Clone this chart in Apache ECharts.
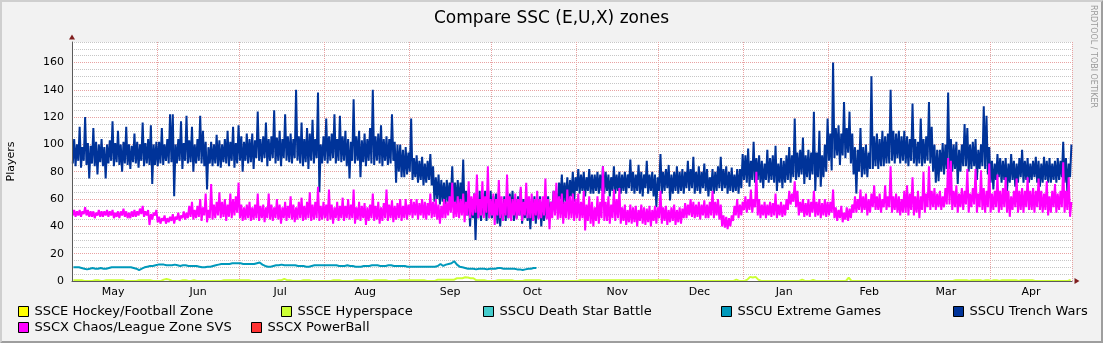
<!DOCTYPE html>
<html>
<head>
<meta charset="utf-8">
<script src="https://cdn.jsdelivr.net/npm/echarts@6/dist/echarts.min.js"></script>
<style>
  html, body { margin: 0; padding: 0; background: #F2F2F2; }
  #chart { width: 1103px; height: 343px; }
</style>
</head>
<body>
<div id="chart"></div>
<script>
// One year of player counts, starting 1 May 2010.
const startDate = Date.UTC(2010, 4, 1);
const endDate = Date.UTC(2011, 4, 1);
const DAY = 86400000;
const HOUR = 3600000;

const seriesNames = [
  'SSCE Hockey/Football Zone',
  'SSCE Hyperspace',
  'SSCU Death Star Battle',
  'SSCU Extreme Games',
  'SSCU Trench Wars',
  'SSCX Chaos/League Zone SVS',
  'SSCX PowerBall'
];
const seriesColors = ['#FFFF00', '#CCFF33', '#44CCCC', '#0099BB', '#003399', '#FF00FF', '#FF3333'];

const monthLabels = ['Jan', 'Feb', 'Mar', 'Apr', 'May', 'Jun', 'Jul', 'Aug', 'Sep', 'Oct', 'Nov', 'Dec'];

// No players recorded in these zones
const hockeyFootball = [];
const deathStarBattle = [];
const powerBall = [];

// Daily averages
const hyperspace = [
  // May
  .6,.6,.6,.6,0,0,0,0,.6,.6,0,0,.6,.6,.6,.6,.6,.6,.6,0,0,0,0,0,.6,.6,.6,.6,.6,0,0,
  // Jun
  0,0,1,1.5,1,0,0,0,0,.6,.6,0,0,.6,0,0,0,0,0,0,0,0,0,0,.6,.6,.6,.6,.6,.6,
  // Jul
  .6,.6,.6,.6,0,0,0,0,0,0,0,0,0,0,.6,.6,1.5,.6,.6,0,0,0,0,.6,.6,.6,0,0,0,0,0,
  // Aug
  0,0,0,.6,.6,.6,0,0,0,0,0,.6,.6,.6,.6,.6,0,0,.6,.6,.6,.6,.6,0,0,0,0,.6,.6,.6,.6,
  // Sep
  .6,.6,.6,.6,.6,.6,0,0,0,0,1,1,1,1,1,1,1,2,2,2,2.7,2.5,2,2,.6,.6,.6,.6,0,0,
  // Oct
  0,0,.6,.6,.6,.6,.6,.6,0,0,0,0,.6,.6,.6,.6,.6,.6,0,0,0,0,0,0,0,0,0,0,0,0,0,
  // Nov
  0,.6,.6,.6,.6,.6,.6,.6,.6,.6,.6,.6,.6,.6,.6,.6,.6,.6,.6,.6,.6,.6,.6,.6,.6,.6,.6,.6,.6,.6,
  // Dec
  .6,.6,.6,.6,0,0,0,0,0,0,0,0,0,0,0,0,0,0,0,0,0,0,0,0,0,0,0,0,1,0,0,
  // Jan
  0,1,3,2.5,3,1,0,0,0,0,0,0,0,0,0,0,0,0,0,0,0,1,0,0,0,.8,0,0,0,0,0,
  // Feb
  0,0,0,0,0,0,0,2.5,0,0,0,0,0,0,0,0,0,0,0,0,0,0,0,0,0,0,0,0,
  // Mar
  0,0,0,0,0,0,0,0,0,0,0,0,0,0,0,0,0,0,.6,.6,.6,.6,.6,0,.6,.6,.6,.6,0,.6,.6,
  // Apr
  0,.6,.6,0,.6,.6,.6,.6,.6,.6,0,.6,.6,.6,.6,.6,0,0,0,0,0,0,0,0,0,0,0,0,0,.8
];

// Daily averages; zone closed after mid October
const extremeGames = [
  // May
  10,10,10,9.5,9,8.5,9,9.5,9,9,9.5,9,9,9.5,10,10,10,10,10,10,10,10,9.5,9,8,9,10,10.5,11,11,11.5,
  // Jun
  12,12,12,11.5,11.5,11.5,12,11.5,11,11.5,11.5,11,11,11,11,10.5,10,10,10.5,10.5,11,11.5,12,12.5,12.5,12.5,12.5,13,13,13,
  // Jul
  13,12.5,12.5,12.5,12.5,12.5,13,13.5,12,11,10.5,10.5,11,11.5,11.5,12,11.5,11.5,11.5,11.5,11.5,11,11,11,10.5,10.5,11,11.5,11.5,11.5,11.5,
  // Aug
  11.5,11.5,11.5,11.5,11.5,11,11,11,11.5,11,11,10.5,10.5,10.5,11,11,11,11.5,11.5,11.5,11,11,11,11.5,11.5,11,11,11,11,11,10.5,
  // Sep
  10.5,10.5,10.5,10.5,10.5,10.5,10.5,10.5,10.5,10.5,11,12.5,11,12,12.5,13,14.5,12,10.5,10,9.5,9,9,9,8.5,9,9,9,8.5,9,
  // Oct
  9,9,9.5,9.5,9,9,9,9,9,8.5,8.5,8,8.5,9,9,9.5,9.5
];

// Daily morning lows and evening peaks
const trenchWarsLow = [
  // May
  86,84,88,83,88,85,75,86,84,78,87,84,75,86,88,84,87,85,80,86,85,82,87,86,83,88,84,86,85,71,85,
  // Jun
  84,86,85,88,86,87,62,86,88,82,88,86,87,80,86,88,86,84,67,86,84,86,84,83,87,86,84,88,83,86,
  // Jul
  88,80,88,86,87,82,90,88,87,90,84,88,90,86,88,84,90,88,87,86,90,88,86,84,87,82,88,86,90,65,86,
  // Aug
  88,86,88,90,86,88,87,88,84,75,88,86,88,76,87,84,88,86,85,88,86,84,88,85,86,88,72,80,76,76,78,
  // Sep
  80,74,76,72,74,70,72,74,70,58,60,56,58,56,58,60,54,56,55,58,50,48,40,46,30,46,44,48,44,46,
  // Oct
  46,48,42,40,46,44,46,50,44,46,48,42,46,44,38,44,42,46,40,44,46,44,52,50,56,60,56,58,56,62,58,
  // Nov
  66,64,66,62,66,64,64,66,64,66,64,66,62,66,64,66,64,66,64,68,66,64,66,64,62,68,64,66,62,54,
  // Dec
  66,64,66,68,59,64,66,64,66,64,68,66,68,64,66,64,68,66,62,66,64,66,68,66,68,64,66,65,66,64,68,
  // Jan
  74,72,69,74,72,74,72,68,74,72,74,72,66,72,68,72,74,72,76,74,76,78,71,76,74,78,66,76,69,76,80,
  // Feb
  88,81,90,92,85,92,90,94,86,78,64,80,76,78,76,82,82,84,82,84,84,86,86,88,86,90,86,88,
  // Mar
  86,84,88,86,84,86,84,86,88,86,80,72,73,80,78,82,82,80,82,71,80,84,84,80,82,84,74,82,84,82,78,
  // Apr
  72,67,74,76,72,74,66,72,74,69,72,76,72,74,72,74,76,72,69,72,74,72,72,74,72,74,76,72,65,76
];
const trenchWarsPeak = [
  // May
  104,100,113,98,120,101,99,112,102,100,104,98,100,103,117,101,110,100,102,113,100,99,108,102,100,116,101,104,114,100,102,
  // Jun
  102,112,100,104,122,122,100,104,117,101,121,103,113,100,104,121,110,102,98,102,100,107,103,100,104,110,102,113,101,114,
  // Jul
  106,102,108,104,108,103,124,104,106,116,104,106,125,105,110,104,122,106,108,104,140,106,116,104,112,108,118,104,138,100,106,
  // Aug
  119,106,108,122,104,121,106,110,104,102,133,106,110,103,108,104,112,140,106,108,114,104,106,104,122,102,100,100,96,98,94,
  // Sep
  119,90,92,88,91,86,88,93,84,76,78,74,72,74,72,84,72,74,72,89,66,64,60,64,62,66,64,66,64,66,
  // Oct
  62,64,58,56,62,60,64,66,60,62,67,60,62,60,56,62,60,62,58,60,62,58,66,64,72,78,72,76,74,80,76,
  // Nov
  82,78,80,76,82,78,78,80,78,84,80,78,76,84,78,80,78,80,78,89,80,78,85,80,78,88,78,80,78,76,
  // Dec
  93,80,82,85,78,80,84,80,82,80,88,82,91,80,84,80,86,82,76,82,80,84,91,82,84,80,83,78,82,82,93,
  // Jan
  92,97,88,102,90,92,88,86,96,90,92,99,86,90,88,92,98,92,119,94,96,105,92,96,94,124,94,110,92,100,119,
  // Feb
  108,160,112,114,108,131,112,124,108,98,96,112,98,100,94,150,106,108,104,110,106,108,140,110,108,110,106,110,
  // Mar
  106,104,130,104,102,119,104,106,131,113,100,96,96,101,100,138,104,100,102,96,100,115,112,100,102,104,96,100,128,121,98,
  // Apr
  88,86,93,90,88,90,86,93,88,86,90,96,88,90,86,88,91,88,86,91,88,90,86,88,90,88,102,90,86,100
];

const chaosLeagueLow = [
  // May
  48,47,48,47,49,48,47,47,46,48,47,47,48,47,48,46,47,46,48,47,46,46,47,47,48,49,47,48,41,45,48,
  // Jun
  43,42,44,42,43,44,42,45,44,46,45,46,47,45,46,47,44,48,43,46,45,46,48,46,47,44,47,46,48,50,
  // Jul
  46,44,45,46,44,45,46,44,46,43,46,45,44,46,45,42,46,44,46,45,43,45,46,44,45,46,44,45,46,44,45,
  // Aug
  46,44,45,42,46,44,46,44,46,45,46,42,45,44,46,41,44,46,44,45,42,44,46,44,46,43,45,46,44,46,45,
  // Sep
  48,46,48,45,48,46,45,48,46,47,45,42,46,46,48,50,46,47,46,48,43,48,46,48,50,46,48,46,50,46,
  // Oct
  48,41,48,46,44,48,46,44,48,45,48,44,48,46,46,44,48,45,46,48,45,38,46,48,45,46,42,46,45,46,44,
  // Nov
  46,44,46,37,44,42,40,44,42,46,44,44,42,46,44,46,42,44,41,43,42,43,40,44,42,41,43,40,44,42,
  // Dec
  46,42,44,41,43,44,41,43,42,46,46,48,47,46,47,45,48,46,46,48,46,48,45,40,39,38,40,44,48,46,48,
  // Jan
  52,50,52,50,54,48,46,48,46,48,47,48,46,48,47,48,52,56,58,54,48,50,47,48,47,50,47,48,46,48,47,
  // Feb
  48,50,46,44,46,43,45,44,46,50,50,52,50,52,48,50,54,52,52,50,54,52,54,50,52,50,48,50,
  // Mar
  50,48,52,48,50,46,52,50,54,52,54,52,54,52,54,56,56,52,54,50,54,52,56,50,54,56,50,54,52,50,54,
  // Apr
  50,52,54,50,52,54,50,47,52,54,50,52,50,54,52,52,50,54,52,50,52,48,50,54,50,52,54,50,52,47
];
const chaosLeaguePeak = [
  // May
  52,51,52,51,54,52,51,51,50,52,51,51,52,51,52,50,51,51,53,51,50,51,52,51,53,55,51,52,49,50,52,
  // Jun
  47,46,48,46,47,49,47,50,48,51,50,55,58,52,55,60,54,64,52,71,56,58,65,58,60,56,64,60,62,72,
  // Jul
  56,54,56,58,54,56,64,55,56,54,64,56,54,60,56,54,58,55,62,56,54,58,61,55,58,65,56,58,69,55,58,
  // Aug
  56,67,56,54,58,55,61,55,60,56,67,54,58,55,57,54,56,64,55,58,54,57,67,56,59,55,57,60,55,60,56,
  // Sep
  60,58,60,57,60,58,57,64,58,60,56,55,60,58,62,72,58,62,60,64,58,73,62,64,78,60,73,62,84,60,
  // Oct
  64,60,74,62,60,78,62,60,64,60,69,58,72,62,64,60,66,60,62,75,60,58,66,72,62,64,58,67,62,64,60,
  // Nov
  64,58,66,56,62,58,54,62,58,84,58,62,56,67,60,68,54,56,52,56,54,55,52,56,54,53,55,52,55,54,
  // Dec
  66,54,55,52,54,56,52,54,53,57,56,60,58,56,58,56,59,56,58,66,58,60,56,48,47,46,48,55,60,56,58,
  // Jan
  62,60,67,60,80,60,56,58,56,58,57,64,56,58,56,60,66,64,73,66,58,60,57,60,58,66,58,60,57,60,58,
  // Feb
  58,67,54,52,55,50,54,53,56,62,60,67,62,64,60,64,70,62,64,60,70,62,84,62,64,62,60,66,
  // Mar
  70,64,76,62,66,62,80,64,84,66,68,64,66,62,68,90,88,66,70,64,68,66,82,64,68,82,64,81,68,66,86,
  // Apr
  64,66,78,66,68,76,66,62,66,75,66,68,66,76,66,68,66,75,66,64,73,62,66,71,64,66,87,66,76,58
];

// Build [time, value] pairs: one point per day, or a morning low and evening peak per day
function dailyPoints(values) {
  return values.map((v, d) => [startDate + d * DAY + 12 * HOUR, v]);
}
function lowPeakPoints(lows, peaks) {
  const pts = [];
  lows.forEach((lo, d) => {
    pts.push([startDate + d * DAY + 7 * HOUR, lo]);
    pts.push([startDate + d * DAY + 19 * HOUR, peaks[d]]);
  });
  return pts;
}

const seriesData = [
  dailyPoints(hockeyFootball),
  dailyPoints(hyperspace),
  dailyPoints(deathStarBattle),
  dailyPoints(extremeGames),
  lowPeakPoints(trenchWarsLow, trenchWarsPeak),
  lowPeakPoints(chaosLeagueLow, chaosLeaguePeak),
  dailyPoints(powerBall)
];

// Month boundaries carry the grid; each label sits half a month in.
const monthStarts = [];
for (let m = 0; m <= 12; m++) monthStarts.push(Date.UTC(2010, 4 + m, 1));
const monthLabelPos = monthStarts.slice(0, 12).map(t => t + 15 * DAY);

// Value grid: labelled lines every 20, fine lines every 5
const Y_MAX = 175;
const majorY = [];
const minorY = [];
for (let v = 0; v <= Y_MAX; v += 5) (v % 20 === 0 ? majorY : minorY).push(v);

const FONT = 'DejaVu Sans';
const minorGrid = '#C6C6C6';
const majorGrid = '#E8A2A2';
const axisColor = '#5A5A5A';
const arrowColor = '#801F1F';

// Legend boxes are laid out on two rows
const legendSlots = [
  { left: 18, top: 305 }, { left: 281, top: 305 }, { left: 483, top: 305 },
  { left: 721, top: 305 }, { left: 953, top: 305 },
  { left: 18, top: 321 }, { left: 251, top: 321 }
];

const hiddenParts = {
  axisTick: { show: false }, axisLabel: { show: false }, splitLine: { show: false }
};

const chart = echarts.init(document.getElementById('chart'), null, { renderer: 'canvas' });

const option = {
  animation: false,
  backgroundColor: '#F2F2F2',
  title: {
    text: 'Compare SSC (E,U,X) zones',
    left: 'center',
    top: 10,
    padding: 0,
    textStyle: { fontFamily: FONT, fontSize: 17, fontWeight: 'normal', color: '#000' }
  },
  grid: {
    left: 72, right: 31, top: 42, bottom: 62,
    outerBoundsMode: 'none',
    containLabel: false,
    show: true, backgroundColor: '#FFFFFF', borderWidth: 0
  },
  legend: seriesNames.map((name, i) => ({
    data: [name],
    left: legendSlots[i].left,
    top: legendSlots[i].top,
    padding: 0,
    icon: 'rect',
    itemWidth: 10,
    itemHeight: 10,
    selectedMode: false,
    itemStyle: { borderColor: '#000', borderWidth: 1 },
    textStyle: { fontFamily: FONT, fontSize: 13, color: '#000', padding: [0, 0, 0, 1] }
  })),
  xAxis: [
    {
      type: 'value',
      min: startDate,
      max: endDate,
      axisLine: { show: false },
      axisTick: { show: false, customValues: monthStarts },
      splitLine: { show: true, lineStyle: { color: majorGrid, width: 1, type: [1, 1] } },
      axisLabel: {
        customValues: monthLabelPos,
        formatter: v => monthLabels[new Date(v).getUTCMonth()],
        fontFamily: FONT, fontSize: 11, color: '#000', margin: 6
      }
    },
    Object.assign({
      type: 'value', min: 0, max: 1, position: 'bottom', z: 5,
      axisLine: { show: true, onZero: false, lineStyle: { color: axisColor, width: 1 } }
    }, hiddenParts),
    Object.assign({
      type: 'value', min: 0, max: 1, position: 'bottom', z: 6,
      axisLine: {
        show: true, onZero: false,
        symbol: ['none', 'triangle'], symbolSize: [6, 5], symbolOffset: [0, 5],
        lineStyle: { color: arrowColor, width: 0 }
      }
    }, hiddenParts)
  ],
  yAxis: [
    {
      // fine grey grid
      type: 'value', min: 0, max: Y_MAX, position: 'left',
      axisLine: { show: false },
      axisTick: { show: false, customValues: minorY },
      axisLabel: { show: false },
      splitLine: { show: true, lineStyle: { color: minorGrid, width: 1, type: [1, 1] } }
    },
    {
      // labelled red grid
      type: 'value', min: 0, max: Y_MAX, position: 'left',
      name: 'Players',
      nameLocation: 'middle',
      nameGap: 55,
      nameTextStyle: { fontFamily: FONT, fontSize: 11, color: '#000' },
      axisLine: { show: false },
      axisTick: { show: false, customValues: majorY },
      axisLabel: {
        customValues: majorY,
        fontFamily: FONT, fontSize: 11, color: '#000', margin: 8
      },
      splitLine: { show: true, lineStyle: { color: majorGrid, width: 1, type: [1, 1] } }
    },
    Object.assign({
      type: 'value', min: 0, max: Y_MAX, position: 'left', z: 5,
      axisLine: { show: true, onZero: false, lineStyle: { color: axisColor, width: 1 } }
    }, hiddenParts),
    Object.assign({
      type: 'value', min: 0, max: Y_MAX, position: 'left', z: 6,
      axisLine: {
        show: true, onZero: false,
        symbol: ['none', 'triangle'], symbolSize: [6, 5], symbolOffset: [0, 5],
        lineStyle: { color: arrowColor, width: 0 }
      }
    }, hiddenParts)
  ],
  series: seriesNames.map((name, i) => ({
    name,
    type: 'line',
    xAxisIndex: 0,
    yAxisIndex: 0,
    color: seriesColors[i],
    data: seriesData[i],
    showSymbol: false,
    symbol: 'none',
    silent: true,
    lineStyle: { width: 2, color: seriesColors[i] },
    emphasis: { disabled: true }
  })),
  graphic: [
    // bevelled frame
    {
      type: 'polygon', silent: true, z: 100,
      shape: { points: [[0, 343], [2, 341], [2, 2], [1101, 2], [1103, 0], [0, 0]] },
      style: { fill: '#CFCFCF' }
    },
    {
      type: 'polygon', silent: true, z: 100,
      shape: { points: [[2, 341], [1101, 341], [1101, 2], [1103, 0], [1103, 343], [0, 343]] },
      style: { fill: '#9E9E9E' }
    },
    {
      type: 'text', silent: true, z: 100,
      x: 1097, y: 5, rotation: -Math.PI / 2,
      style: {
        text: 'RRDTOOL / TOBI OETIKER',
        fill: '#9A9A9A',
        font: '8px "DejaVu Sans"',
        align: 'left',
        verticalAlign: 'top'
      }
    }
  ]
};

chart.setOption(option);
</script>
</body>
</html>
